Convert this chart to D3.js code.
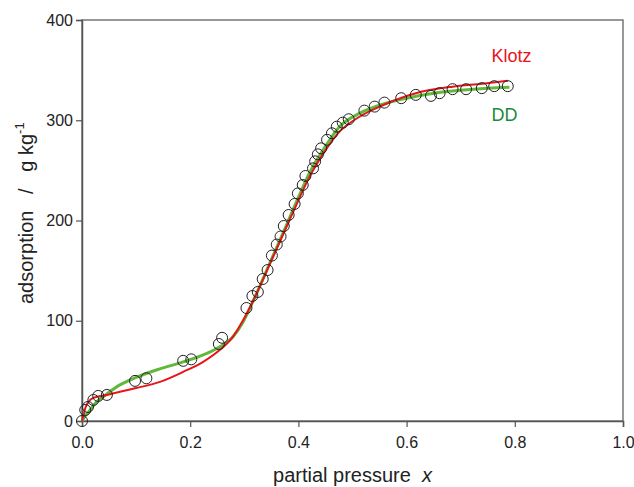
<!DOCTYPE html>
<html>
<head>
<meta charset="utf-8">
<script src="https://cdn.jsdelivr.net/npm/d3@7"></script>
<style>
  body { margin: 0; background: #fff; }
  svg { font-family: 'Liberation Sans', Arial, sans-serif; }
  .title { white-space: pre; }
</style>
</head>
<body>
<div class="root"></div>
<script>
// measured points
const obsX = [0, 0.006, 0.011, 0.021, 0.03, 0.046, 0.098, 0.119, 0.187, 0.202, 0.253, 0.259,
  0.304, 0.315, 0.325, 0.334, 0.343, 0.351, 0.36, 0.367, 0.373, 0.382, 0.393, 0.399, 0.408,
  0.413, 0.427, 0.431, 0.436, 0.442, 0.453, 0.462, 0.471, 0.482, 0.493, 0.522, 0.541, 0.559,
  0.59, 0.617, 0.645, 0.661, 0.685, 0.71, 0.739, 0.762, 0.787]
const obsY = [0, 11, 14, 21, 25, 26, 40, 42.6, 60, 61.5, 76.8, 83,
  112.7, 124.7, 128.7, 141.6, 150.6, 165, 176, 184, 194.5, 205.5, 216.5, 227, 235.4,
  244.4, 252, 259, 266, 272, 280.5, 287, 293.6, 297.6, 301, 309.6, 313.6, 317.6,
  322, 325.3, 324.3, 327, 331, 331, 332, 334, 334]

// fitted curves
const klotzX = [0, 0.002, 0.006, 0.012, 0.021, 0.046, 0.098, 0.144, 0.187, 0.224, 0.255, 0.279,
  0.298, 0.32, 0.35, 0.38, 0.4, 0.42, 0.45, 0.476, 0.513, 0.556, 0.617, 0.685, 0.74, 0.787]
const klotzY = [0, 4, 12.7, 19, 23, 26, 32.6, 39, 49, 59, 71, 84,
  100.7, 124, 160, 196, 220, 243, 270, 288.6, 303.5, 315, 327, 333.5, 336.5, 339.5]

const ddX = [0, 0.006, 0.015, 0.025, 0.046, 0.07, 0.1, 0.144, 0.187, 0.224, 0.255, 0.279,
  0.298, 0.32, 0.35, 0.38, 0.4, 0.42, 0.45, 0.476, 0.513, 0.556, 0.6, 0.65, 0.7, 0.75, 0.79]
const ddY = [0, 5, 11, 18, 27, 36, 43.5, 52, 59, 66, 74, 84,
  99, 124, 161, 198, 223, 247, 274, 293.6, 306.9, 316, 322, 327, 330, 332, 333]

const xTicks = [0, 0.2, 0.4, 0.6, 0.8, 1.0]
const yTicks = [0, 100, 200, 300, 400]

const margin = { top: 20, bottom: 66, left: 82, right: 11 }
const svgWidth = 634
    , svgHeight = 487
    , graphWidth = svgWidth - margin.left - margin.right
    , graphHeight = svgHeight - margin.top - margin.bottom

const svg = d3.select('.root')
              .append('svg')
              .attr('width', svgWidth)
              .attr('height', svgHeight)

const canvas = svg.append('g')
                  .attr('transform', `translate(${margin.left}, ${margin.top})`)

const scaleX = d3.scaleLinear().domain([0, 1]).range([0, graphWidth])
const scaleY = d3.scaleLinear().domain([0, 400]).range([graphHeight, 0])

// frame
canvas.append('rect')
      .attr('width', graphWidth)
      .attr('height', graphHeight)
      .attr('fill', 'none')
      .attr('stroke', '#777')
      .attr('stroke-width', 1.5)

const xAxis = canvas.append('g')
                    .attr('transform', `translate(0, ${graphHeight})`)
                    .call(d3.axisBottom(scaleX).tickValues(xTicks).tickFormat(d3.format('.1f')).tickSize(6).tickPadding(10))
const yAxis = canvas.append('g')
                    .call(d3.axisLeft(scaleY).tickValues(yTicks).tickSize(6).tickPadding(3))

;[xAxis, yAxis].forEach(ax => {
  ax.select('.domain').attr('stroke', '#555').attr('stroke-width', 1.5)
  ax.selectAll('.tick line').attr('stroke', '#555').attr('stroke-width', 1.2)
  ax.selectAll('.tick text').attr('font-size', 16).attr('fill', '#222')
    .attr('font-family', "'Liberation Sans', Arial, sans-serif")
})

const line = d3.line()
               .x(d => scaleX(d[0]))
               .y(d => scaleY(d[1]))
               .curve(d3.curveMonotoneX)

canvas.append('path')
      .datum(d3.zip(ddX, ddY))
      .attr('d', line)
      .attr('fill', 'none')
      .attr('stroke', '#62b83a')
      .attr('stroke-width', 3)

canvas.append('path')
      .datum(d3.zip(klotzX, klotzY))
      .attr('d', line)
      .attr('fill', 'none')
      .attr('stroke', '#e8141c')
      .attr('stroke-width', 2)

canvas.append('g')
      .selectAll('circle')
      .data(d3.zip(obsX, obsY))
      .enter()
      .append('circle')
      .attr('r', 5.5)
      .attr('cx', d => scaleX(d[0]))
      .attr('cy', d => scaleY(d[1]))
      .attr('fill', 'none')
      .attr('stroke', '#222')
      .attr('stroke-width', 1)

canvas.append('text')
      .attr('x', scaleX(0.757))
      .attr('y', scaleY(358))
      .attr('font-size', 18)
      .attr('fill', '#e8141c')
      .text('Klotz')

canvas.append('text')
      .attr('x', scaleX(0.757))
      .attr('y', scaleY(299))
      .attr('font-size', 18)
      .attr('fill', '#1b8a3c')
      .text('DD')

// axis titles
const xTitle = svg.append('text')
                  .attr('class', 'title')
                  .attr('x', margin.left + graphWidth / 2)
                  .attr('y', 482)
                  .attr('text-anchor', 'middle')
                  .attr('font-size', 20)
                  .attr('fill', '#222')
xTitle.append('tspan').text('partial pressure  ')
xTitle.append('tspan').attr('font-style', 'italic').text('x')

const yTitle = svg.append('text')
                  .attr('class', 'title')
                  .attr('transform', 'translate(33, 304) rotate(-90)')
                  .attr('text-anchor', 'start')
                  .attr('font-size', 20)
                  .attr('fill', '#222')
yTitle.append('tspan').text('adsorption   /   g kg')
yTitle.append('tspan').attr('font-size', 13).attr('dy', -9).text('-1')
</script>
</body>
</html>
